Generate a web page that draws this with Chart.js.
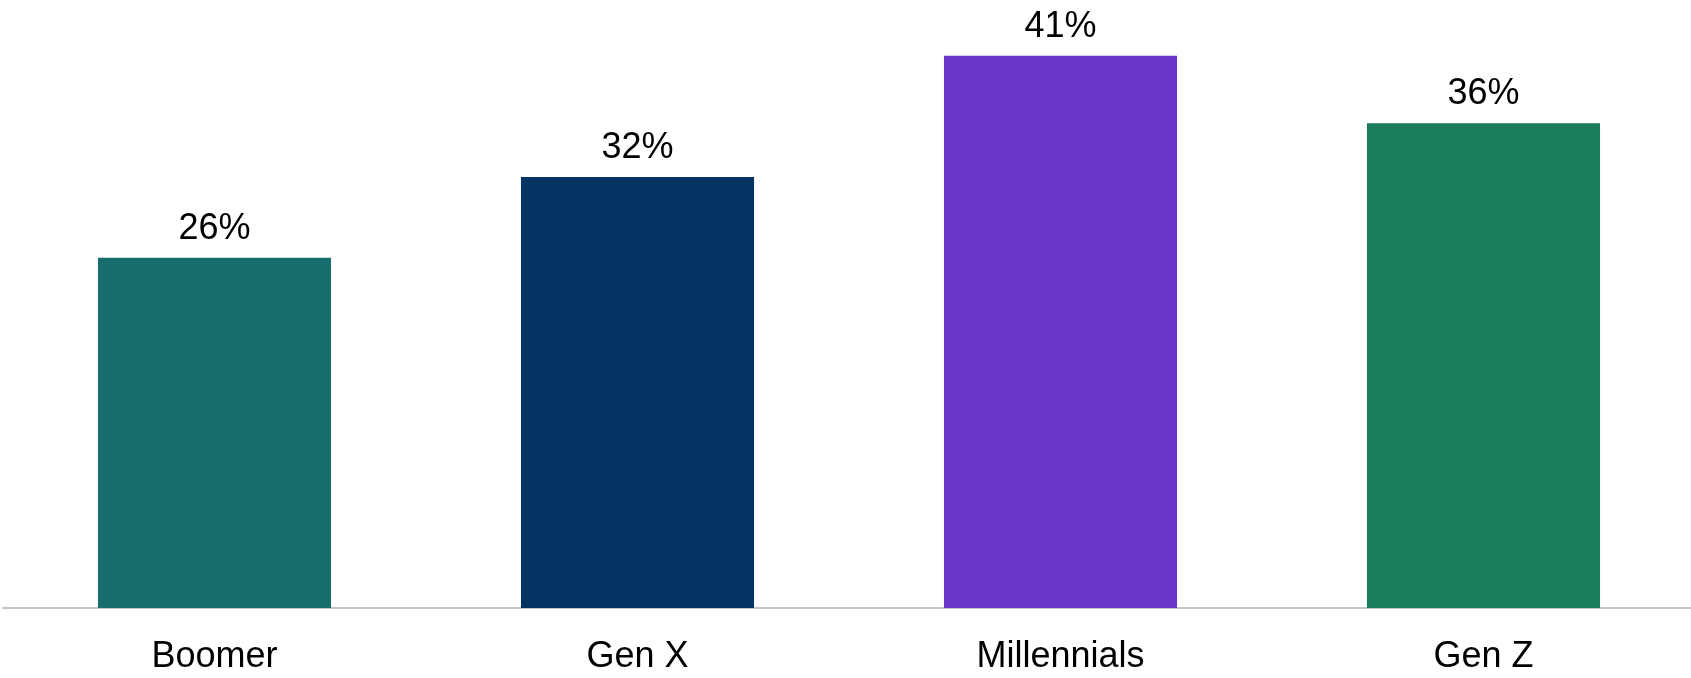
<!DOCTYPE html>
<html>
<head>
<meta charset="utf-8">
<script src="https://cdn.jsdelivr.net/npm/chart.js@4"></script>
<style>
  html, body { margin: 0; padding: 0; background: #fff; overflow: hidden; }
  #wrap { width: 1691px; height: 678px; overflow: hidden; }
</style>
</head>
<body>
<div id="wrap"><canvas id="genChart" width="1695" height="678"></canvas></div>
<script>
// Chart data
const categories = ['Boomer', 'Gen X', 'Millennials', 'Gen Z'];
const shares = [26, 32, 41, 36];
const barColors = ['#186d6d', '#023361', '#6934ca', '#197d59'];

// Draws the "NN%" label above each bar
const valueLabels = {
    id: 'valueLabels',
    afterDatasetsDraw(chart) {
        const ctx = chart.ctx;
        const meta = chart.getDatasetMeta(0);
        ctx.save();
        ctx.font = '36px "Liberation Sans", Arial, sans-serif';
        ctx.fillStyle = '#000';
        ctx.textAlign = 'center';
        ctx.textBaseline = 'alphabetic';
        meta.data.forEach(function (bar, i) {
            ctx.fillText(shares[i] + '%', bar.x, bar.y - 19);
        });
        ctx.restore();
    }
};

const ctx = document.getElementById('genChart').getContext('2d');
new Chart(ctx, {
    type: 'bar',
    data: {
        labels: categories,
        datasets: [{
            data: shares,
            backgroundColor: barColors,
            barPercentage: 0.551,
            categoryPercentage: 1
        }]
    },
    options: {
        responsive: false,
        animation: false,
        layout: { padding: { top: 2, left: 3, right: 0, bottom: 0 } },
        plugins: {
            legend: { display: false },
            tooltip: { enabled: false }
        },
        scales: {
            x: {
                grid: { display: false, drawTicks: false },
                border: { display: true, color: '#c6c6c6', width: 2 },
                ticks: {
                    color: '#000',
                    padding: 27,
                    font: { family: '"Liberation Sans", Arial, sans-serif', size: 36 }
                },
                afterFit(scale) { scale.height = 70; }
            },
            y: {
                display: false,
                min: 0,
                max: 45
            }
        }
    },
    plugins: [valueLabels]
});
</script>
</body>
</html>
